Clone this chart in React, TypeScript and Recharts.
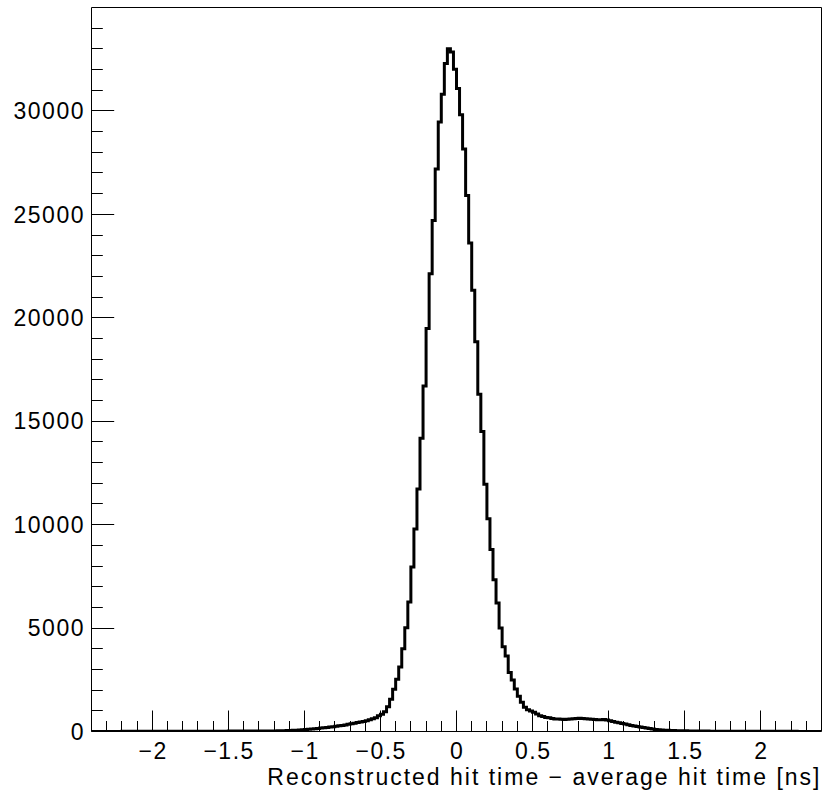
import React from "react"
import { LineChart, Line, XAxis, YAxis, Label } from "recharts"

// histogram binning: 240 bins of 0.02 ns from -2.4 to 2.4
const binLow = -2.4
const binWidth = 0.02

// bin contents
const leftTail = [
  4, 5, 4, 5, 5, 6, 5, 6, 6, 6,
  7, 6, 7, 7, 8, 7, 8, 8, 9, 8,
  9, 9, 10, 10, 10, 11, 11, 11, 12, 12,
  12, 13, 13, 14, 14, 14, 15, 15, 16, 16,
  16, 17, 17, 18, 18, 19, 19, 20, 20, 21,
  21, 22, 22, 23, 23, 24, 24, 25, 25, 26,
]
const leftShoulder = [
  28, 31, 35, 39, 44, 50, 58, 66, 75, 85,
  96, 108, 120, 135, 150, 165, 180, 198, 215, 235,
  255, 275, 295, 320, 345, 370, 400, 430, 455, 485,
  520, 570, 620, 670, 760, 830, 950, 1200, 1560, 2040,
]
const peak = [
  2530, 3120, 4000, 5020, 6260, 7950, 9790, 11720, 14180, 16700,
  19480, 22130, 24700, 27190, 29470, 30810, 32290, 33000, 32850, 32010,
  31080, 29810, 28160, 25910, 23610, 21330, 18840, 16300, 14500, 11950,
  10280, 8800, 7330, 6210, 5000, 4100, 3650, 2850, 2490, 2050,
  1700, 1410, 1170, 1050, 990, 925, 840, 760, 720, 680,
]
const rightShoulder = [
  660, 630, 610, 600, 590, 585, 590, 600, 615, 630,
  635, 630, 620, 610, 595, 580, 570, 570, 580, 560,
  525, 487, 450, 419, 390, 357, 325, 295, 265, 236,
  212, 188, 164, 140, 116, 98, 82, 70, 62, 55,
  48, 44, 40, 37, 34, 31, 28, 26, 24, 22,
]
const rightTail = [
  21, 20, 19, 18, 18, 17, 16, 16, 15, 15,
  14, 14, 13, 13, 12, 12, 12, 11, 11, 10,
  10, 9, 9, 9, 8, 8, 8, 8, 7, 7,
  7, 7, 6, 6, 6, 6, 6, 5, 5, 5,
]

const counts = [...leftTail, ...leftShoulder, ...peak, ...rightShoulder, ...rightTail]

// tick positions: minor every 0.1 ns / 1000 entries
const xTicks = Array.from({ length: 47 }, (_, i) => (i - 23) / 10)
const yTicks = Array.from({ length: 35 }, (_, i) => i * 1000)

const xTitle = "Reconstructed hit time \u2212 average hit time [ns]"

const data = counts.map((n, i) => ({ x: +(binLow + i * binWidth).toFixed(2), n }))
data.push({ x: +(binLow + counts.length * binWidth).toFixed(2), n: counts[counts.length - 1] })

const FONT = "'Liberation Sans', Arial, Helvetica, sans-serif"
const TICK_SIZE = 6
const TICK_MARGIN = 2

const fmt = (v: number) => (v < 0 ? "\u2212" + String(-v) : String(v))
const crisp = (p: number) => Math.round(p - 0.5) + 0.5

const XTick = (props: any) => {
  const { x, y, payload } = props
  const v = payload.value
  const major = Math.abs(v * 2 - Math.round(v * 2)) < 1e-6
  const axisY = y - TICK_SIZE - TICK_MARGIN
  const px = crisp(x)
  return (
    <g>
      <line x1={px} x2={px} y1={axisY} y2={axisY - (major ? 21 : 10.5)} stroke="#000" strokeWidth={1} />
      {major && (
        <text x={x + 0.75} y={axisY + 27} textAnchor="middle" fill="#000" fontFamily={FONT} fontSize={23} letterSpacing={1.5}>
          {fmt(v)}
        </text>
      )}
    </g>
  )
}

const YTick = (props: any) => {
  const { x, y, payload } = props
  const v = payload.value
  const major = v % 5000 === 0
  const axisX = x + TICK_SIZE + TICK_MARGIN
  const py = crisp(y)
  return (
    <g>
      <line x1={axisX} x2={axisX + (major ? 22.7 : 11.3)} y1={py} y2={py} stroke="#000" strokeWidth={1} />
      {major && (
        <text x={axisX - 6.5} y={y + 8.2} textAnchor="end" fill="#000" fontFamily={FONT} fontSize={23} letterSpacing={1.5}>
          {v}
        </text>
      )}
    </g>
  )
}

const XTitle = (props: any) => {
  const vb = props.viewBox
  return (
    <text x={vb.x + vb.width} y={vb.y + 53.5} textAnchor="end" fill="#000" fontFamily={FONT} fontSize={23} letterSpacing={2}>
      {xTitle}
    </text>
  )
}

export default function App() {
  return (
    <div style={{ position: "absolute", left: 0, top: 0, background: "#fff" }}>
      <LineChart
        width={830}
        height={797}
        data={data}
        margin={{ top: 6.5, right: 7.5, left: 11.5, bottom: 4.5 }}
      >
        <XAxis
          dataKey="x"
          type="number"
          domain={[-2.4, 2.4]}
          ticks={xTicks}
          interval={0}
          height={61}
          tickSize={TICK_SIZE}
          tickMargin={TICK_MARGIN}
          tickLine={false}
          tick={<XTick />}
          axisLine={{ stroke: "#000", strokeWidth: 1 }}
          allowDataOverflow
        >
          <Label content={<XTitle />} />
        </XAxis>
        <XAxis
          xAxisId="top"
          dataKey="x"
          type="number"
          domain={[-2.4, 2.4]}
          orientation="top"
          height={1}
          tick={false}
          tickLine={false}
          axisLine={{ stroke: "#000", strokeWidth: 1 }}
        />
        <YAxis
          type="number"
          domain={[0, 35000]}
          ticks={yTicks}
          interval={0}
          width={80}
          tickSize={TICK_SIZE}
          tickMargin={TICK_MARGIN}
          tickLine={false}
          tick={<YTick />}
          axisLine={{ stroke: "#000", strokeWidth: 1 }}
          allowDataOverflow
        />
        <YAxis
          yAxisId="right"
          orientation="right"
          domain={[0, 35000]}
          width={1}
          tick={false}
          tickLine={false}
          axisLine={{ stroke: "#000", strokeWidth: 1 }}
        />
        <Line
          type="stepAfter"
          dataKey="n"
          stroke="#000"
          strokeWidth={3}
          strokeLinejoin="miter"
          dot={false}
          activeDot={false}
          isAnimationActive={false}
        />
      </LineChart>
    </div>
  )
}
